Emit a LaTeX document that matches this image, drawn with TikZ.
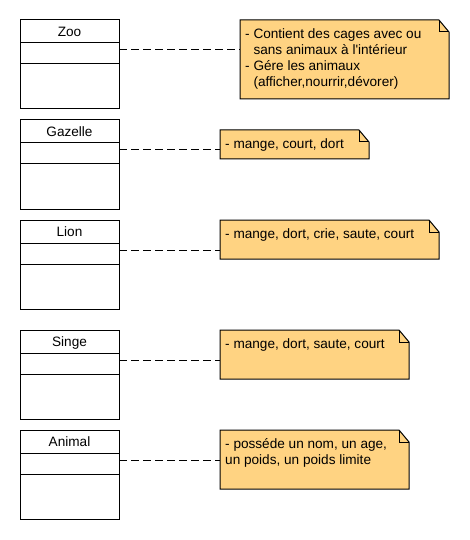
\documentclass[tikz,border=0pt]{standalone}
\usepackage{fontspec}
\setmainfont{Liberation Sans}
\usetikzlibrary{positioning}
\definecolor{notecolor}{RGB}{255,211,130}
\tikzstyle{classhead} = [rectangle, draw=black, line width=1pt, minimum width=99pt, minimum height=23pt, inner sep=0pt, outer sep=0pt, anchor=north west, text height=10pt, text depth=-3pt, font=\fontsize{13.6}{14}\selectfont]
\tikzstyle{classattr} = [rectangle, draw=black, line width=1pt, minimum width=99pt, minimum height=21pt, inner sep=0pt, outer sep=0pt]
\tikzstyle{classop} = [classattr, minimum height=45pt]
\tikzstyle{notebox} = [rectangle, draw=none, inner sep=0pt, outer sep=0pt, anchor=north west]
\tikzstyle{notefill} = [fill=notecolor, draw=black, line width=1pt]
\tikzstyle{notetext} = [align=left, inner sep=0pt, anchor=north west, font=\fontsize{13.6}{16}\selectfont]
\tikzstyle{dep} = [line width=1pt, dash pattern=on 8pt off 4pt]
\newcommand{\drawnote}[1]{%
  \filldraw[notefill] (#1.north west) -- ([xshift=-10pt]#1.north east) -- ([yshift=-12pt]#1.north east) -- (#1.south east) -- (#1.south west) -- cycle;
  \draw[line width=1pt] ([xshift=-10pt]#1.north east) |- ([yshift=-12pt]#1.north east);
}

\begin{document}
\begin{tikzpicture}[x=1pt, y=-1pt]
        \useasboundingbox (0,0) rectangle (470,540);

        % Classes
        \node (zoo) [classhead] at (20,20) {Zoo};
        \node (zooattr) [classattr, below=0pt of zoo] {};
        \node (zooop) [classop, below=0pt of zooattr] {};

        \node (gazelle) [classhead] at (20,120) {Gazelle};
        \node (gazelleattr) [classattr, below=0pt of gazelle] {};
        \node (gazelleop) [classop, below=0pt of gazelleattr] {};

        \node (lion) [classhead] at (20,220) {Lion};
        \node (lionattr) [classattr, below=0pt of lion] {};
        \node (lionop) [classop, below=0pt of lionattr] {};

        \node (singe) [classhead] at (20,330) {Singe};
        \node (singeattr) [classattr, below=0pt of singe] {};
        \node (singeop) [classop, below=0pt of singeattr] {};

        \node (animal) [classhead] at (20,430) {Animal};
        \node (animalattr) [classattr, below=0pt of animal] {};
        \node (animalop) [classop, below=0pt of animalattr] {};

        % Notes
        \node (zoonote) [notebox, minimum width=209pt, minimum height=79pt] at (240,20) {};
        \drawnote{zoonote}
        \node (zootext) [notetext] at ([xshift=5pt, yshift=-6.8pt]zoonote.north west) {\strut- Contient des cages avec ou\\\hphantom{- }sans animaux à l\textquotesingle intérieur\\- Gére les animaux\\\hphantom{- }(afficher,nourrir,dévorer)};

        \node (gazellenote) [notebox, minimum width=149pt, minimum height=29pt] at (220,130) {};
        \drawnote{gazellenote}
        \node (gazelletext) [notetext] at ([xshift=5pt, yshift=-6.8pt]gazellenote.north west) {\strut- mange, court, dort};

        \node (lionnote) [notebox, minimum width=219pt, minimum height=39pt] at (220,220) {};
        \drawnote{lionnote}
        \node (liontext) [notetext] at ([xshift=5pt, yshift=-6.8pt]lionnote.north west) {\strut- mange, dort, crie, saute, court};

        \node (singenote) [notebox, minimum width=189pt, minimum height=49pt] at (220,330) {};
        \drawnote{singenote}
        \node (singetext) [notetext] at ([xshift=5pt, yshift=-6.8pt]singenote.north west) {\strut- mange, dort, saute, court};

        \node (animalnote) [notebox, minimum width=189pt, minimum height=59pt] at (220,430) {};
        \drawnote{animalnote}
        \node (animaltext) [notetext] at ([xshift=5pt, yshift=-6.8pt]animalnote.north west) {\strut- posséde un nom, un age,\\un poids, un poids limite};

        % Links
        \coordinate (zoolink) at ([yshift=-30pt]zoo.north east);
        \coordinate (gazellelink) at ([yshift=-30pt]gazelle.north east);
        \coordinate (lionlink) at ([yshift=-30pt]lion.north east);
        \coordinate (singelink) at ([yshift=-30pt]singe.north east);
        \coordinate (animallink) at ([yshift=-30pt]animal.north east);
        \draw [dep] (zoolink) -- (zoolink -| zoonote.west);
        \draw [dep] (gazellelink) -- (gazellelink -| gazellenote.west);
        \draw [dep] (lionlink) -- (lionlink -| lionnote.west);
        \draw [dep] (singelink) -- (singelink -| singenote.west);
        \draw [dep] (animallink) -- (animallink -| animalnote.west);
    \end{tikzpicture}
\end{document}
